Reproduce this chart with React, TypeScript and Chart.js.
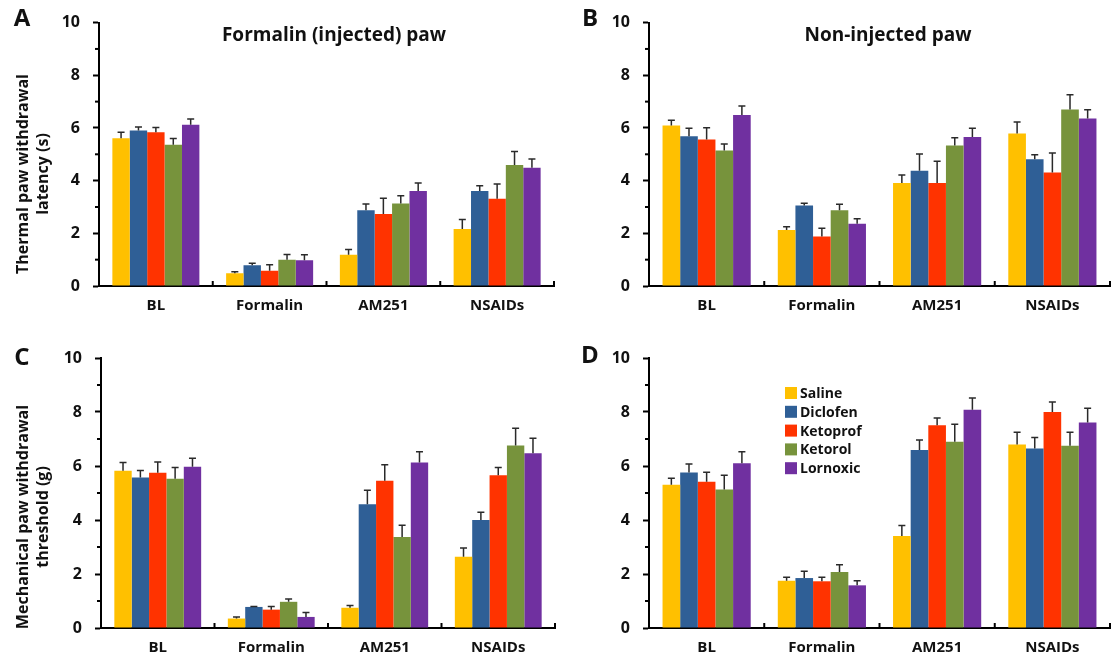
import React, { useEffect, useRef } from "react";
import { Chart, registerables } from "chart.js";

Chart.register(...registerables);

// ---------- data ----------
const categories = ["BL", "Formalin", "AM251", "NSAIDs"];
const seriesNames = ["Saline", "Diclofen", "Ketoprof", "Ketorol", "Lornoxic"];
const seriesColors = ["#FFC000", "#2F5F96", "#FF3300", "#77933C", "#7030A0"];

// Panel A – thermal, formalin (injected) paw
const aSaline = [5.61, 0.48, 1.19, 2.16];
const aDiclofen = [5.9, 0.79, 2.88, 3.61];
const aKetoprof = [5.84, 0.58, 2.73, 3.31];
const aKetorol = [5.36, 1.0, 3.13, 4.59];
const aLornoxic = [6.12, 0.98, 3.61, 4.49];
const aSalineErr = [0.23, 0.06, 0.2, 0.36];
const aDiclofenErr = [0.14, 0.07, 0.23, 0.2];
const aKetoprofErr = [0.18, 0.23, 0.6, 0.56];
const aKetorolErr = [0.24, 0.2, 0.3, 0.52];
const aLornoxicErr = [0.22, 0.21, 0.3, 0.33];

// Panel B – thermal, non-injected paw
const bSaline = [6.09, 2.13, 3.91, 5.79];
const bDiclofen = [5.69, 3.06, 4.38, 4.81];
const bKetoprof = [5.56, 1.88, 3.91, 4.31];
const bKetorol = [5.14, 2.88, 5.33, 6.7];
const bLornoxic = [6.49, 2.36, 5.66, 6.36];
const bSalineErr = [0.2, 0.12, 0.3, 0.44];
const bDiclofenErr = [0.3, 0.08, 0.63, 0.17];
const bKetoprofErr = [0.45, 0.31, 0.83, 0.74];
const bKetorolErr = [0.25, 0.22, 0.3, 0.56];
const bLornoxicErr = [0.34, 0.19, 0.33, 0.33];

// Panel C – mechanical, formalin (injected) paw
const cSaline = [5.82, 0.35, 0.75, 2.64];
const cDiclofen = [5.57, 0.78, 4.58, 4.0];
const cKetoprof = [5.75, 0.68, 5.45, 5.66];
const cKetorol = [5.53, 0.97, 3.37, 6.76];
const cLornoxic = [5.97, 0.41, 6.13, 6.47];
const cSalineErr = [0.31, 0.06, 0.08, 0.32];
const cDiclofenErr = [0.26, 0.02, 0.52, 0.29];
const cKetoprofErr = [0.4, 0.12, 0.6, 0.28];
const cKetorolErr = [0.41, 0.1, 0.44, 0.64];
const cLornoxicErr = [0.32, 0.16, 0.4, 0.56];

// Panel D – mechanical, non-injected paw
const dSaline = [5.31, 1.75, 3.41, 6.8];
const dDiclofen = [5.76, 1.85, 6.59, 6.65];
const dKetoprof = [5.42, 1.73, 7.51, 8.0];
const dKetorol = [5.13, 2.07, 6.9, 6.75];
const dLornoxic = [6.1, 1.58, 8.08, 7.61];
const dSalineErr = [0.24, 0.13, 0.39, 0.45];
const dDiclofenErr = [0.31, 0.25, 0.37, 0.41];
const dKetoprofErr = [0.35, 0.15, 0.27, 0.37];
const dKetorolErr = [0.53, 0.27, 0.65, 0.5];
const dLornoxicErr = [0.43, 0.17, 0.44, 0.53];

const yMin = 0;
const yMax = 10;
const yStep = 1;

// ---------- layout / style ----------
const FONT = "'Open Sans', 'Noto Sans', sans-serif";
const TEXT = "#111";

type Panel = {
  letter: string;
  letterPos: [number, number];
  title?: string;
  titlePos?: [number, number];
  yTitle?: string[];
  yTitleX?: number[];
  yTitleCenter?: number;
  means: number[][];
  errs: number[][];
  legend?: { sqX: number; textX: number; y0: number; dy: number };
  box: { left: number; top: number; w: number; h: number };
  area: { l: number; t: number; r: number; b: number };
};

const panels: Panel[] = [
  {
    letter: "A",
    letterPos: [22, 19],
    title: "Formalin (injected) paw",
    titlePos: [334, 36],
    yTitle: ["Thermal paw withdrawal", "latency (s)"],
    yTitleX: [23, 43],
    yTitleCenter: 174,
    means: [aSaline, aDiclofen, aKetoprof, aKetorol, aLornoxic],
    errs: [aSalineErr, aDiclofenErr, aKetoprofErr, aKetorolErr, aLornoxicErr],
    box: { left: 0, top: 0, w: 557, h: 330 },
    area: { l: 99, t: 20, r: 554, b: 286 },
  },
  {
    letter: "B",
    letterPos: [33, 19],
    title: "Non-injected paw",
    titlePos: [331, 36],
    means: [bSaline, bDiclofen, bKetoprof, bKetorol, bLornoxic],
    errs: [bSalineErr, bDiclofenErr, bKetoprofErr, bKetorolErr, bLornoxicErr],
    box: { left: 557, top: 0, w: 558, h: 330 },
    area: { l: 92, t: 20, r: 553, b: 286 },
  },
  {
    letter: "C",
    letterPos: [22, 28],
    yTitle: ["Mechanical paw withdrawal", "threshold (g)"],
    yTitleX: [23, 43],
    yTitleCenter: 187,
    means: [cSaline, cDiclofen, cKetoprof, cKetorol, cLornoxic],
    errs: [cSalineErr, cDiclofenErr, cKetoprofErr, cKetorolErr, cLornoxicErr],
    box: { left: 0, top: 330, w: 557, h: 334 },
    area: { l: 101, t: 28, r: 555, b: 298 },
  },
  {
    letter: "D",
    letterPos: [33, 26],
    means: [dSaline, dDiclofen, dKetoprof, dKetorol, dLornoxic],
    errs: [dSalineErr, dDiclofenErr, dKetoprofErr, dKetorolErr, dLornoxicErr],
    legend: { sqX: 228, textX: 243, y0: 63, dy: 18.8 },
    box: { left: 557, top: 330, w: 558, h: 334 },
    area: { l: 92, t: 28, r: 553, b: 298 },
  },
];

function makePlugin(p: Panel) {
  return {
    id: "panelDecor" + p.letter,
    afterDatasetsDraw(chart: any) {
      const ctx = chart.ctx;
      const ys = chart.scales.y;
      ctx.save();
      ctx.strokeStyle = "#2a2a2a";
      ctx.lineWidth = 1.5;
      chart.data.datasets.forEach((ds: any, i: number) => {
        const meta = chart.getDatasetMeta(i);
        meta.data.forEach((bar: any, j: number) => {
          const v = ds.data[j];
          const e = p.errs[i][j];
          const yTop = ys.getPixelForValue(v + e);
          ctx.beginPath();
          ctx.moveTo(bar.x, bar.y);
          ctx.lineTo(bar.x, yTop);
          ctx.moveTo(bar.x - 3.5, yTop);
          ctx.lineTo(bar.x + 3.5, yTop);
          ctx.stroke();
        });
      });
      ctx.restore();
    },
    afterDraw(chart: any) {
      const ctx = chart.ctx;
      const xs = chart.scales.x;
      const ys = chart.scales.y;
      ctx.save();
      // minor y ticks
      ctx.strokeStyle = "#000";
      ctx.lineWidth = 2;
      for (let v = yMin + yStep; v < yMax; v += 2 * yStep) {
        const y = ys.getPixelForValue(v);
        ctx.beginPath();
        ctx.moveTo(ys.right - 4, y);
        ctx.lineTo(ys.right, y);
        ctx.stroke();
      }
      // category boundary ticks (pointing up)
      const n = chart.data.labels.length;
      for (let i = 1; i <= n; i++) {
        const x = xs.left + (i * xs.width) / n;
        ctx.beginPath();
        ctx.moveTo(x, xs.top);
        ctx.lineTo(x, xs.top - 5);
        ctx.stroke();
      }
      ctx.fillStyle = TEXT;
      ctx.textBaseline = "middle";
      // panel letter
      ctx.font = `bold 24px ${FONT}`;
      ctx.textAlign = "center";
      ctx.fillText(p.letter, p.letterPos[0], p.letterPos[1]);
      // panel title
      if (p.title && p.titlePos) {
        ctx.font = `bold 19px ${FONT}`;
        ctx.fillText(p.title, p.titlePos[0], p.titlePos[1]);
      }
      // y title
      if (p.yTitle && p.yTitleX) {
        ctx.font = `bold 16px ${FONT}`;
        p.yTitle.forEach((line, k) => {
          ctx.save();
          ctx.translate(p.yTitleX![k], p.yTitleCenter!);
          ctx.rotate(-Math.PI / 2);
          ctx.fillText(line, 0, 0);
          ctx.restore();
        });
      }
      // legend
      if (p.legend) {
        const L = p.legend;
        ctx.font = `bold 14px ${FONT}`;
        ctx.textAlign = "left";
        chart.data.datasets.forEach((ds: any, i: number) => {
          const y = L.y0 + i * L.dy;
          ctx.fillStyle = ds.backgroundColor;
          ctx.fillRect(L.sqX, y - 6, 12, 12);
          ctx.fillStyle = TEXT;
          ctx.fillText(ds.label, L.textX, y + 1);
        });
      }
      ctx.restore();
    },
  };
}

function PanelChart({ p }: { p: Panel }) {
  const ref = useRef<HTMLCanvasElement | null>(null);
  useEffect(() => {
    if (!ref.current) return;
    const chart = new Chart(ref.current, {
      type: "bar",
      data: {
        labels: categories,
        datasets: seriesNames.map((name, i) => ({
          label: name,
          data: p.means[i],
          backgroundColor: seriesColors[i],
          borderWidth: 0,
          categoryPercentage: 0.765,
          barPercentage: 1.0,
        })),
      },
      options: {
        responsive: false,
        animation: false,
        devicePixelRatio: 1,
        layout: {
          padding: { left: 0, top: p.area.t, right: p.box.w - p.area.r, bottom: 0 },
        },
        plugins: {
          legend: { display: false },
          tooltip: { enabled: false },
          title: { display: false },
        },
        scales: {
          x: {
            type: "category",
            offset: true,
            grid: { display: false, drawTicks: false },
            border: { display: true, color: "#000", width: 2 },
            ticks: {
              padding: 11,
              color: TEXT,
              font: { family: FONT, size: 15, weight: "bold" },
              maxRotation: 0,
              autoSkip: false,
            },
            afterFit: (s: any) => {
              s.height = p.box.h - p.area.b;
            },
          },
          y: {
            min: yMin,
            max: yMax,
            ticks: {
              stepSize: yStep,
              padding: 13,
              autoSkip: false,
              color: TEXT,
              font: { family: FONT, size: 16, weight: "bold" },
              callback: (v: any) => (Number(v) % 2 === 0 ? String(v) : ""),
            },
            grid: {
              drawOnChartArea: false,
              drawTicks: true,
              tickLength: 6,
              tickWidth: 2,
              tickColor: (c: any) =>
                c.tick && Number(c.tick.value) % 2 === 0 ? "#000" : "rgba(0,0,0,0)",
            },
            border: { display: true, color: "#000", width: 2 },
            afterFit: (s: any) => {
              s.width = p.area.l;
            },
          },
        },
      } as any,
      plugins: [makePlugin(p)],
    });
    return () => chart.destroy();
  }, [p]);
  return (
    <canvas
      ref={ref}
      width={p.box.w}
      height={p.box.h}
      style={{
        position: "absolute",
        left: p.box.left,
        top: p.box.top,
        width: p.box.w,
        height: p.box.h,
      }}
    />
  );
}

export default function App() {
  return (
    <div
      style={{
        position: "absolute",
        left: 0,
        top: 0,
        width: 1115,
        height: 664,
        background: "#fff",
        overflow: "hidden",
      }}
    >
      {panels.map((p) => (
        <PanelChart key={p.letter} p={p} />
      ))}
    </div>
  );
}
